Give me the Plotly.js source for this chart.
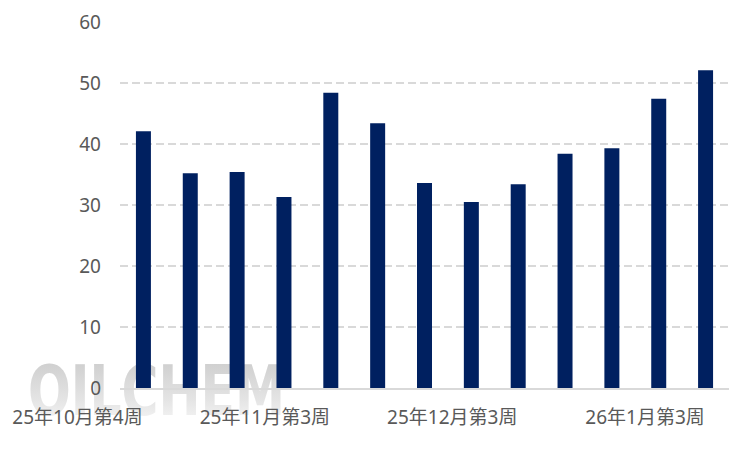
<!DOCTYPE html>
<html>
<head>
<meta charset="utf-8">
<script src="https://cdn.plot.ly/plotly-3.0.1.min.js"></script>
<style>html,body{margin:0;padding:0;background:#fff;}#chart{width:750px;height:450px;}</style>
</head>
<body>
<div id="chart"></div>
<script>
var categories = ["25年10月第4周","25年10月第5周","25年11月第1周","25年11月第2周","25年11月第3周","25年11月第4周","25年12月第1周","25年12月第2周","25年12月第3周","25年12月第4周","26年1月第1周","26年1月第2周","26年1月第3周"];
var values = [42.1, 35.2, 35.4, 31.3, 48.4, 43.4, 33.6, 30.5, 33.4, 38.4, 39.3, 47.4, 52.1];
var tickLabels = categories.filter(function(c, i){ return i % 4 === 0; });

var wm = '<svg xmlns="http://www.w3.org/2000/svg" width="260" height="56" viewBox="0 0 260 56">' +
  '<defs><linearGradient id="g" x1="0" y1="0" x2="0" y2="1">' +
  '<stop offset="0" stop-color="#c8c8c8"/><stop offset="0.6" stop-color="#e4e4e4"/><stop offset="1" stop-color="#fbfbfb"/></linearGradient></defs>' +
  '<text x="0" y="53" font-family="Liberation Sans Narrow, DejaVu Sans Condensed, sans-serif" font-size="70" font-weight="bold" fill="url(#g)" textLength="257" lengthAdjust="spacingAndGlyphs">OILCHEM</text></svg>';
var wmSrc = 'data:image/svg+xml;base64,' + btoa(wm);

var trace = {
  type: 'bar',
  x: categories,
  y: values,
  marker: {color: '#002060'},
  hoverinfo: 'x+y'
};

var layout = {
  width: 750, height: 450,
  margin: {l: 120, r: 21, t: 22, b: 62},
  paper_bgcolor: '#ffffff',
  plot_bgcolor: 'rgba(0,0,0,0)',
  bargap: 0.68,
  showlegend: false,
  font: {family: '"Noto Sans", "Noto Sans CJK SC", sans-serif', size: 19, color: '#595959'},
  xaxis: {
    type: 'category',
    tickmode: 'array',
    tickvals: tickLabels,
    ticktext: tickLabels,
    ticklabelposition: 'outside left',
    ticklabelstandoff: 12,
    ticks: '',
    showgrid: false,
    showline: true,
    linecolor: '#d9d9d9',
    linewidth: 1.5,
    tickfont: {size: 19, color: '#595959'},
    range: [-0.5, 12.5]
  },
  yaxis: {
    range: [0, 60],
    dtick: 10,
    tick0: 0,
    showgrid: true,
    gridcolor: '#d9d9d9',
    gridwidth: 1.5,
    griddash: '8px,4px',
    zeroline: false,
    showline: false,
    ticks: '',
    ticklabelstandoff: 18,
    tickfont: {size: 19, color: '#595959'}
  },
  images: [{
    source: wmSrc,
    xref: 'paper', yref: 'paper',
    x: -0.1511, y: 0.0706,
    sizex: 0.427, sizey: 0.153,
    xanchor: 'left', yanchor: 'top',
    sizing: 'stretch',
    layer: 'below'
  }]
};

Plotly.newPlot('chart', [trace], layout, {displayModeBar: false, staticPlot: true});
</script>
</body>
</html>
